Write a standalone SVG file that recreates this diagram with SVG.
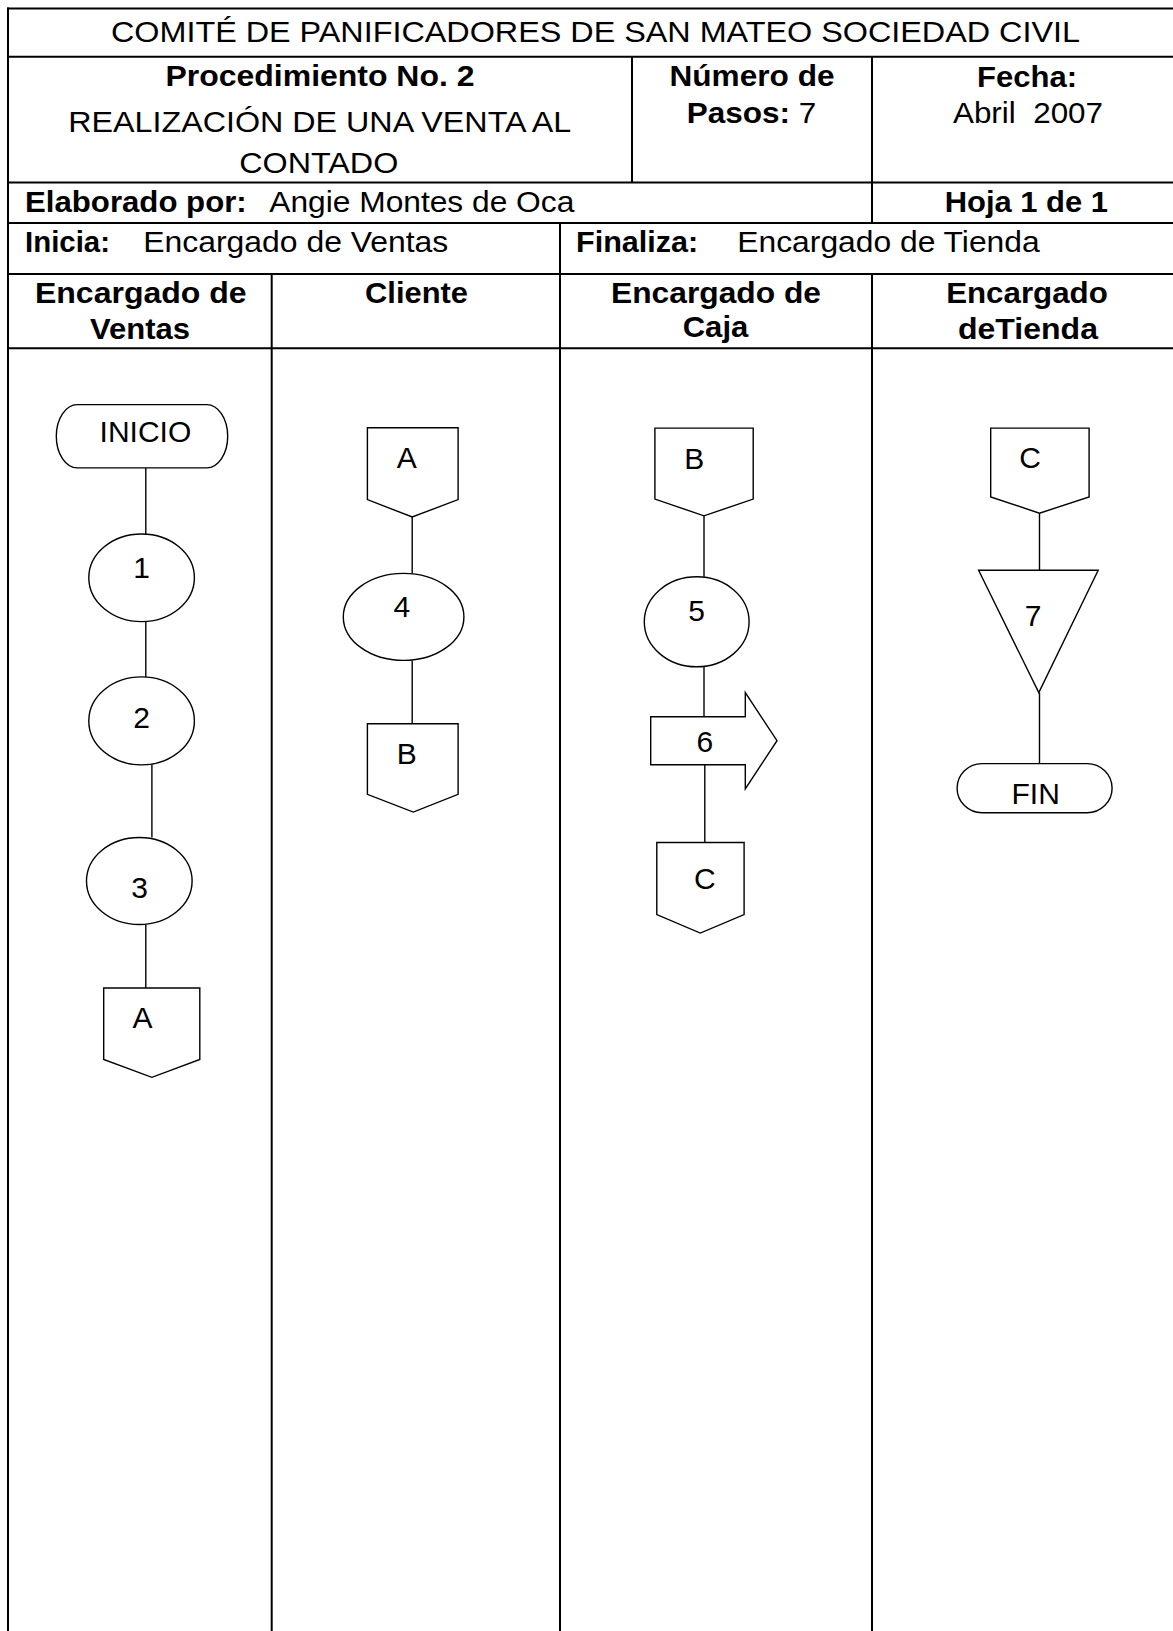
<svg xmlns="http://www.w3.org/2000/svg" width="1173" height="1631" viewBox="0 0 1173 1631">
<style>
.t{font-family:"Liberation Sans",Arial,sans-serif;font-size:30px;fill:#000;white-space:pre}
.b{font-weight:bold}
.m{text-anchor:middle}
.grid{stroke:#000;stroke-width:2;fill:none}
.shape{stroke:#000;stroke-width:1.4;fill:#fff}
.conn{stroke:#000;stroke-width:1.4;fill:none}
.n{font-family:"Liberation Sans",Arial,sans-serif;font-size:30px;fill:#000;text-anchor:middle}
</style>
<rect width="1173" height="1631" fill="#fff"/>
<g id="table">
<g class="grid">
<line x1="7" y1="8.5" x2="1176" y2="8.5"/>
<line x1="7" y1="56.7" x2="1176" y2="56.7"/>
<line x1="7" y1="182.5" x2="1176" y2="182.5"/>
<line x1="7" y1="223" x2="1176" y2="223"/>
<line x1="7" y1="274" x2="1176" y2="274"/>
<line x1="7" y1="348.3" x2="1176" y2="348.3"/>
<line x1="8" y1="7.5" x2="8" y2="1632"/>
<line x1="632" y1="56.7" x2="632" y2="182.5"/>
<line x1="872" y1="56.7" x2="872" y2="223"/>
<line x1="560" y1="223" x2="560" y2="1632"/>
<line x1="271.7" y1="274" x2="271.7" y2="1632"/>
<line x1="872" y1="274" x2="872" y2="1632"/>
</g>
<text class="t m" x="595.5" y="42" textLength="969" lengthAdjust="spacingAndGlyphs">COMITÉ DE PANIFICADORES DE SAN MATEO SOCIEDAD CIVIL</text>
<text class="t b m" x="320" y="86" textLength="309" lengthAdjust="spacingAndGlyphs">Procedimiento No. 2</text>
<text class="t" x="68.3" y="131.7" textLength="503" lengthAdjust="spacingAndGlyphs">REALIZACIÓN DE UNA VENTA AL</text>
<text class="t" x="239.3" y="172.7" textLength="159" lengthAdjust="spacingAndGlyphs">CONTADO</text>
<text class="t b m" x="752" y="86" textLength="165" lengthAdjust="spacingAndGlyphs">Número de</text>
<text class="t" x="686.7" y="123.3" textLength="129.6" lengthAdjust="spacingAndGlyphs"><tspan class="b">Pasos:</tspan> 7</text>
<text class="t b m" x="1027" y="86.7" textLength="100" lengthAdjust="spacingAndGlyphs">Fecha:</text>
<text class="t m" x="1028" y="123.3" textLength="150" lengthAdjust="spacingAndGlyphs">Abril  2007</text>
<text class="t b" x="25" y="211.7" textLength="221.7" lengthAdjust="spacingAndGlyphs">Elaborado por:</text>
<text class="t" x="269.3" y="211.7" textLength="305" lengthAdjust="spacingAndGlyphs">Angie Montes de Oca</text>
<text class="t b" x="944.7" y="211.7" textLength="163.3" lengthAdjust="spacingAndGlyphs">Hoja 1 de 1</text>
<text class="t b" x="25" y="251.7" textLength="85" lengthAdjust="spacingAndGlyphs">Inicia:</text>
<text class="t" x="143.3" y="251.7" textLength="305" lengthAdjust="spacingAndGlyphs">Encargado de Ventas</text>
<text class="t b" x="576" y="251.7" textLength="122.3" lengthAdjust="spacingAndGlyphs">Finaliza:</text>
<text class="t" x="737.3" y="251.7" textLength="302.4" lengthAdjust="spacingAndGlyphs">Encargado de Tienda</text>
<text class="t b m" x="140.8" y="302.5" textLength="211.7" lengthAdjust="spacingAndGlyphs">Encargado de</text>
<text class="t b m" x="140" y="339" textLength="100" lengthAdjust="spacingAndGlyphs">Ventas</text>
<text class="t b m" x="416.5" y="302.5" textLength="103" lengthAdjust="spacingAndGlyphs">Cliente</text>
<text class="t b m" x="716" y="302.5" textLength="210" lengthAdjust="spacingAndGlyphs">Encargado de</text>
<text class="t b m" x="715.5" y="337" textLength="65.6" lengthAdjust="spacingAndGlyphs">Caja</text>
<text class="t b m" x="1027" y="302.5" textLength="161.7" lengthAdjust="spacingAndGlyphs">Encargado</text>
<text class="t b m" x="1028" y="339" textLength="140" lengthAdjust="spacingAndGlyphs">deTienda</text>
</g>
<g id="connectors" class="conn">
<line x1="145.8" y1="468" x2="145.8" y2="534"/>
<line x1="145.8" y1="621.5" x2="145.8" y2="677"/>
<line x1="151.9" y1="764.8" x2="151.9" y2="837.6"/>
<line x1="145.8" y1="924.5" x2="145.8" y2="988"/>
<line x1="412.2" y1="517" x2="412.2" y2="573.5"/>
<line x1="412.2" y1="660.4" x2="412.2" y2="723.8"/>
<line x1="704" y1="515.8" x2="704" y2="576.8"/>
<line x1="704" y1="666.7" x2="704" y2="716.7"/>
<line x1="704.8" y1="764.8" x2="704.8" y2="842.5"/>
<line x1="1039.5" y1="513.2" x2="1039.5" y2="570.2"/>
<line x1="1039.5" y1="692.6" x2="1039.5" y2="763.6"/>
</g>
<g id="inicio">
<rect class="shape" x="56.3" y="404.6" width="171.4" height="63.3" rx="21" ry="31.6"/>
<text class="n" x="145.4" y="441.6">INICIO</text>
</g>
<g id="paso1">
<ellipse class="shape" cx="141.6" cy="577.8" rx="52.8" ry="43.8"/>
<text class="n" x="141.6" y="578">1</text>
</g>
<g id="paso2">
<ellipse class="shape" cx="141.6" cy="720.9" rx="52.8" ry="44"/>
<text class="n" x="141.6" y="728.2">2</text>
</g>
<g id="paso3">
<ellipse class="shape" cx="139.3" cy="881" rx="52.8" ry="43.5"/>
<text class="n" x="139.7" y="897.9">3</text>
</g>
<g id="conectorA-salida">
<polygon class="shape" points="103.7,988 199.8,988 199.8,1059.5 151.9,1077.3 103.7,1059.5"/>
<text class="n" x="142.4" y="1028.2">A</text>
</g>
<g id="conectorA-entrada">
<polygon class="shape" points="367.4,427.8 458.1,427.8 458.1,499.6 412.2,517 367.4,499.6"/>
<text class="n" x="406.8" y="468">A</text>
</g>
<g id="paso4">
<ellipse class="shape" cx="403.6" cy="616.9" rx="60.3" ry="43.5"/>
<text class="n" x="401.8" y="616.6">4</text>
</g>
<g id="conectorB-salida">
<polygon class="shape" points="367.4,723.8 458.1,723.8 458.1,794.3 413.3,812.1 367.4,794.3"/>
<text class="n" x="406.8" y="764">B</text>
</g>
<g id="conectorB-entrada">
<polygon class="shape" points="654.9,428.1 753.2,428.1 753.2,499.1 704,515.8 654.9,499.1"/>
<text class="n" x="694.2" y="468.8">B</text>
</g>
<g id="paso5">
<ellipse class="shape" cx="696.7" cy="621.8" rx="52.4" ry="45"/>
<text class="n" x="696.5" y="621.2">5</text>
</g>
<g id="paso6">
<polygon class="shape" points="650.7,716.7 745.3,716.7 745.3,692.6 777,740.7 745.3,788.8 745.3,764.8 650.7,764.8"/>
<text class="n" x="704.8" y="751.8">6</text>
</g>
<g id="conectorC-salida">
<polygon class="shape" points="656.8,842.5 744.1,842.5 744.1,914.6 700.3,933.1 656.8,914.6"/>
<text class="n" x="704.8" y="888.7">C</text>
</g>
<g id="conectorC-entrada">
<polygon class="shape" points="990.7,428.1 1089.1,428.1 1089.1,496.9 1039.5,513.2 990.7,496.9"/>
<text class="n" x="1030" y="467.7">C</text>
</g>
<g id="paso7">
<polygon class="shape" points="978.6,570.2 1098.2,570.2 1038.8,692.6"/>
<text class="n" x="1033" y="626">7</text>
</g>
<g id="fin">
<rect class="shape" x="957.1" y="763.6" width="155" height="49.2" rx="25" ry="24.6"/>
<text class="n" x="1035.7" y="803.6">FIN</text>
</g>
</svg>
